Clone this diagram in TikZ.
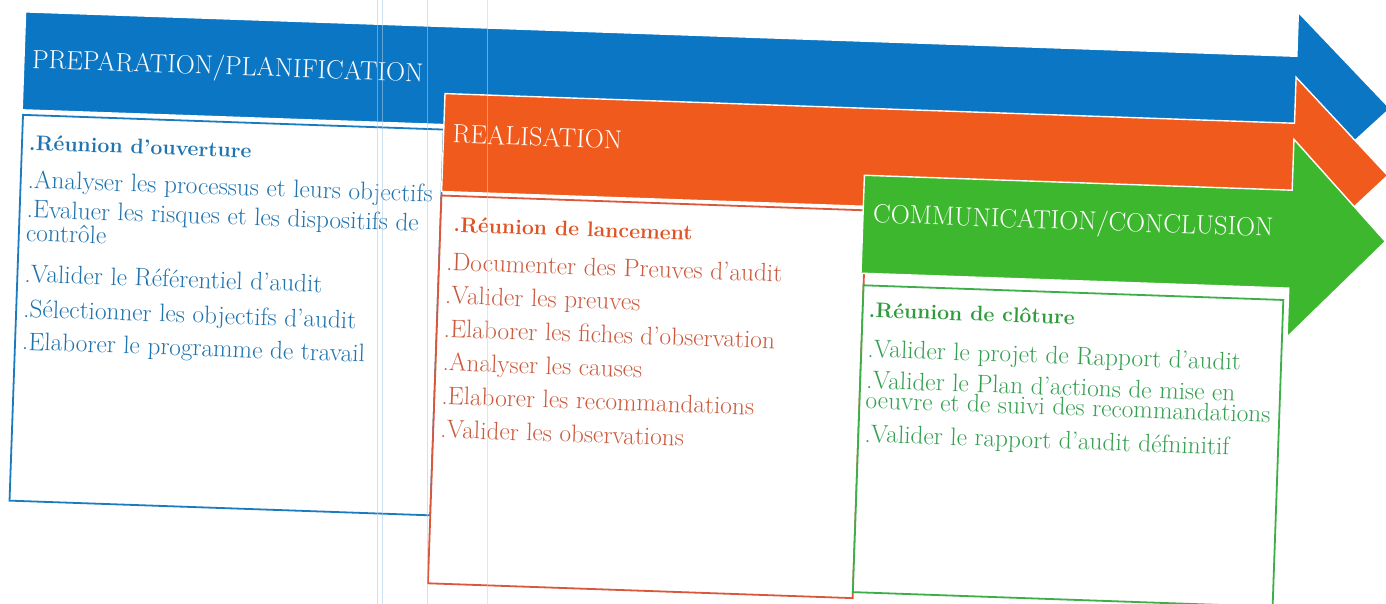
\documentclass[tikz,border=0pt]{standalone}
\usepackage{fontspec}
\definecolor{arrowblue}{HTML}{0A76C4}
\definecolor{arroworange}{HTML}{F05A1C}
\definecolor{arrowgreen}{HTML}{3DB82E}
\definecolor{lineblue}{HTML}{1A7CBE}
\definecolor{lineorange}{HTML}{D9573A}
\definecolor{linegreen}{HTML}{3CAF48}
\definecolor{txtblue}{HTML}{1F74B0}
\definecolor{txtorange}{HTML}{CC5A3E}
\definecolor{headorange}{HTML}{DE5324}
\definecolor{txtgreen}{HTML}{34A050}
\definecolor{headgreen}{HTML}{2E9C3C}
\definecolor{paperline}{HTML}{A9CBE6}
\definecolor{paperbeige}{HTML}{E2CFB4}
\tikzset{
  phasearrow/.style={draw=white, line width=1.4pt, line join=miter},
  phasebox/.style={line width=1.8pt, fill=white},
  phasehead/.style={anchor=base west, inner sep=0pt, text=white,
    font=\fontsize{26.3}{30}\selectfont},
  itemtext/.style={anchor=base west, inner sep=0pt, align=left,
    font=\fontsize{25.3}{20}\selectfont},
  itemhead/.style={anchor=base west, inner sep=0pt,
    font=\fontsize{21.2}{25}\selectfont\bfseries},
  rule/.style={line width=0.9pt, opacity=0.55}
}
\begin{document}
\begin{tikzpicture}[x=1pt,y=-1pt]
\useasboundingbox (0,0) rectangle (1386,604);
\fill[white] (0,0) rectangle (1386,604);
\begin{scope}[rotate=-2, transform shape]
  % phase 1 : preparation
  \filldraw[phasearrow, fill=arrowblue]
    (26,11) -- (1298,11) -- (1298,-33) -- (1393,60) -- (1298,153)
    -- (1298,109) -- (26,109) -- cycle;
  \node[phasehead] (h1) at (34,67) {PREPARATION/PLANIFICATION};
  \draw[phasebox, draw=lineblue] (27,114) rectangle (448,500);
  \begin{scope}[text=txtblue]
    \node[itemhead, text=txtblue] (b0) at (34,149) {.Réunion d'ouverture};
    \node[itemtext] (b1) at (34,187) {.Analyser les processus et leurs objectifs};
    % two-line item: the base anchor sits on the last line
    \node[itemtext] (b2) at (34,240) {.Evaluer les risques et les dispositifs de\\contrôle};
    \node[itemtext] (b3) at (34,281) {.Valider le Référentiel d'audit};
    \node[itemtext] (b4) at (34,316) {.Sélectionner les objectifs d'audit};
    \node[itemtext] (b5) at (34,349) {.Elaborer le programme de travail};
  \end{scope}

  % phase 2 : realisation
  \filldraw[phasearrow, fill=arroworange]
    (448,78) -- (1298,78) -- (1298,32) -- (1393,127) -- (1298,222)
    -- (1298,176) -- (448,176) -- cycle;
  \node[phasehead] (h2) at (457,127) {REALISATION};
  \draw[phasebox, draw=lineorange] (448,180) rectangle (873,568);
  \begin{scope}[text=txtorange]
    \node[itemhead, text=headorange] (o0) at (461,216) {.Réunion de lancement};
    \node[itemtext] (o1) at (455,254.5) {.Documenter des Preuves d'audit};
    \node[itemtext] (o2) at (455,288) {.Valider les preuves};
    \node[itemtext] (o3) at (455,321.5) {.Elaborer les fiches d'observation};
    \node[itemtext] (o4) at (455,355) {.Analyser les causes};
    \node[itemtext] (o5) at (455,388.5) {.Elaborer les recommandations};
    \node[itemtext] (o6) at (455,422) {.Valider les observations};
  \end{scope}

  % phase 3 : communication
  \filldraw[phasearrow, fill=arrowgreen]
    (870,145) -- (1298,145) -- (1298,94) -- (1393,193) -- (1298,292)
    -- (1298,243) -- (870,243) -- cycle;
  \node[phasehead] (h3) at (880,192) {COMMUNICATION/CONCLUSION};
  \draw[phasebox, draw=linegreen] (873,255) rectangle (1293,562);
  \begin{scope}[text=txtgreen]
    \node[itemhead, text=headgreen] (g0) at (879,286.7) {.Réunion de clôture};
    \node[itemtext] (g1) at (879,326.7) {.Valider le projet de Rapport d'audit};
    \node[itemtext] (g2) at (879,378) {.Valider le Plan d'actions de mise en\\oeuvre et de suivi des recommandations};
    \node[itemtext] (g3) at (879,411.7) {.Valider le rapport d'audit défninitif};
  \end{scope}
\end{scope}

% ruled lines of the sheet
\draw[rule, paperline] (377,0) -- (377,604);
\draw[rule, paperline] (382,0) -- (382,604);
\draw[rule, paperline] (427,0) -- (427,604);
\draw[rule, paperbeige] (487,0) -- (487,604);
\end{tikzpicture}
\end{document}
